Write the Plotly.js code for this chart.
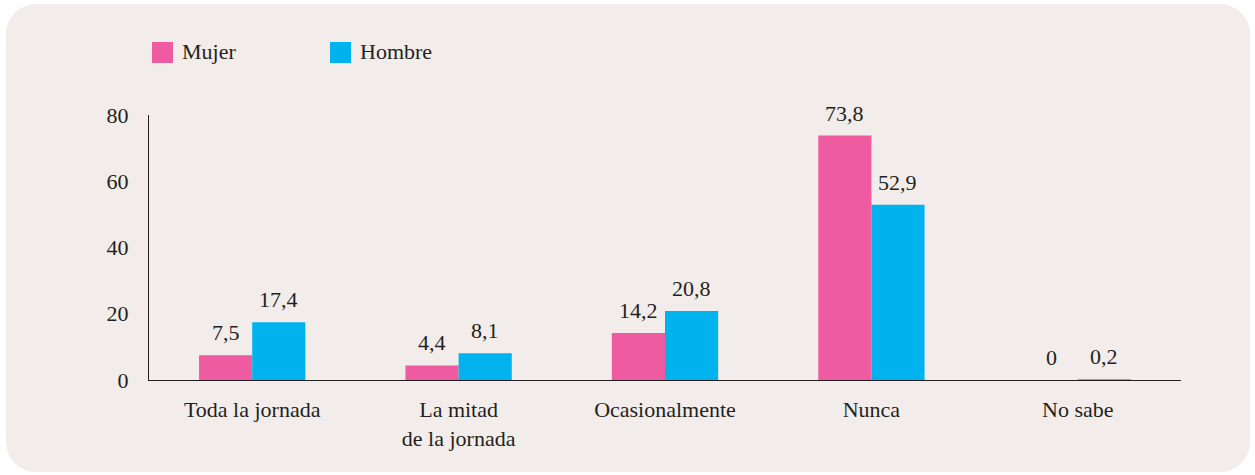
<!DOCTYPE html>
<html>
<head>
<meta charset="utf-8">
<script src="https://cdn.plot.ly/plotly-3.0.1.min.js"></script>
<style>
  html, body { margin: 0; padding: 0; background: #ffffff; }
  #wrap { position: relative; width: 1255px; height: 475px; }
  #bg { position: absolute; left: 6px; top: 4px; width: 1244px; height: 468px;
        background: #f2edea; border-radius: 30px; }
  #chart { position: absolute; left: 0; top: 0; width: 1255px; height: 475px; }
</style>
</head>
<body>
<div id="wrap"><div id="bg"></div><div id="chart"></div></div>
<script>
const categories = ["Toda la jornada", "La mitad<br>de la jornada", "Ocasionalmente", "Nunca", "No sabe"];
const mujer = [7.5, 4.4, 14.2, 73.8, 0];
const hombre = [17.4, 8.1, 20.8, 52.9, 0.2];
const seriesNames = ["Mujer", "Hombre"];
const yTicks = [0, 20, 40, 60, 80];

const pink = "#ef5ba1";
const blue = "#00b3ee";
const fontFam = "'Liberation Serif', serif";
const fs = 22;
const txtColor = "#231f20";
const fmt = v => String(v).replace(".", ",");
const bargap = 0.485;

const traces = [
  { type: "bar", name: seriesNames[0], x: categories, y: mujer,
    marker: { color: pink }, hoverinfo: "skip", showlegend: false },
  { type: "bar", name: seriesNames[1], x: categories, y: hombre,
    marker: { color: blue }, hoverinfo: "skip", showlegend: false }
];

// plot area spans x 149..1181 px, y 115..380 px
const L = 149, R = 1181, T = 115, B = 380;
const px = p => (p - L) / (R - L);
const py = p => (B - p) / (B - T);
const groupW = (R - L) / categories.length;
const halfBar = groupW * (1 - bargap) / 4;

// value labels above bars, placed from the data through the axes
const valueLabels = [];
[mujer, hombre].forEach((vals, si) => {
  vals.forEach((v, i) => {
    valueLabels.push({
      xref: "x", yref: "y", x: categories[i], y: v,
      xshift: si === 0 ? -halfBar : halfBar, yshift: 8,
      xanchor: "center", yanchor: "bottom", showarrow: false, text: fmt(v),
      font: { family: fontFam, size: fs, color: txtColor }
    });
  });
});

// legend
const legendItems = [
  { name: seriesNames[0], color: pink, x0: 152 },
  { name: seriesNames[1], color: blue, x0: 330 }
];
const shapes = legendItems.map(it => ({
  type: "rect", xref: "paper", yref: "paper",
  x0: px(it.x0), x1: px(it.x0 + 21), y0: py(63), y1: py(42),
  fillcolor: it.color, line: { width: 0 }
}));
const legendLabels = legendItems.map(it => ({
  xref: "paper", yref: "paper", x: px(it.x0 + 28), y: py(51),
  xanchor: "left", yanchor: "middle", showarrow: false, text: it.name,
  font: { family: fontFam, size: fs, color: txtColor }
}));

const layout = {
  width: 1255, height: 475,
  margin: { l: L, r: 1255 - R, t: T, b: 475 - B },
  paper_bgcolor: "rgba(0,0,0,0)", plot_bgcolor: "rgba(0,0,0,0)",
  barmode: "group", bargap: bargap, bargroupgap: 0,
  separators: ",.",
  font: { family: fontFam, size: fs, color: txtColor },
  xaxis: { showline: true, linecolor: "#231f20", linewidth: 1, showgrid: false,
           zeroline: false, ticks: "", ticklabelstandoff: 10,
           tickfont: { family: fontFam, size: fs, color: txtColor }, fixedrange: true },
  yaxis: { range: [0, 80], tickvals: yTicks, showline: true, linecolor: "#231f20", linewidth: 1,
           showgrid: false, zeroline: false, ticks: "", ticklabelstandoff: 15,
           tickfont: { family: fontFam, size: fs, color: txtColor }, fixedrange: true },
  shapes: shapes, annotations: valueLabels.concat(legendLabels), showlegend: false
};

Plotly.newPlot("chart", traces, layout, { displayModeBar: false, staticPlot: true });
</script>
</body>
</html>
